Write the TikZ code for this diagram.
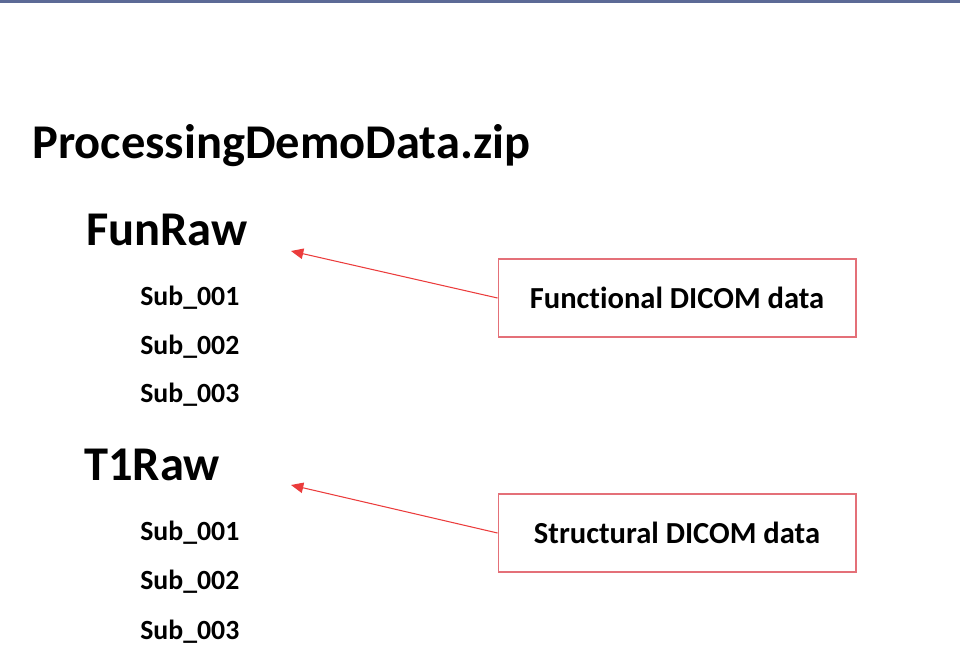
\documentclass[tikz,border=0pt]{standalone}
\usepackage{fontspec}
\setmainfont[Ligatures={NoCommon}]{Carlito}
\usetikzlibrary{arrows.meta}

\definecolor{topbar}{RGB}{92,106,150}
\definecolor{boxred}{RGB}{228,112,120}
\definecolor{arrowred}{RGB}{235,60,60}

\begin{document}
\begin{tikzpicture}[
    x=0.02cm, y=-0.02cm,
    font=\bfseries,
    folder/.style={anchor=base west, inner sep=0pt},
    title/.style={folder, font=\fontsize{27.6}{32}\selectfont\bfseries},
    rawdir/.style={folder, font=\fontsize{27.6}{32}\selectfont\bfseries},
    subject/.style={folder, font=\fontsize{15.8}{19}\selectfont\bfseries},
    callout/.style={
        draw=boxred,
        line width=0.6pt,
        minimum width=7.16cm,
        minimum height=1.56cm,
        align=center,
        font=\fontsize{17.4}{21}\selectfont\bfseries
    },
    pointer/.style={-{Triangle[length=7pt,width=6pt]}, draw=arrowred, line width=0.6pt}
]

\useasboundingbox (0,0) rectangle (960,670);
\fill[topbar] (0,0) rectangle (960,2.5);

\node[title] (zipFile) at (32,158) {ProcessingDemoData.zip};

\node[rawdir] (funRaw) at (86,245) {FunRaw};
\node[subject] (funSub1) at (140,305) {Sub\_001};
\node[subject] (funSub2) at (140,354) {Sub\_002};
\node[subject] (funSub3) at (140,402) {Sub\_003};

\node[rawdir] (tRaw) at (84,480) {T1Raw};
\node[subject] (tSub1) at (140,540) {Sub\_001};
\node[subject] (tSub2) at (140,589) {Sub\_002};
\node[subject] (tSub3) at (140,639) {Sub\_003};

\node[callout] (funBox) at (677,298) {Functional DICOM data};
\node[callout] (tBox) at (677,533) {Structural DICOM data};

\coordinate (funTip) at (291,251);
\coordinate (tTip) at (291,485);

\draw[pointer] (funBox.west) -- (funTip);
\draw[pointer] (tBox.west) -- (tTip);

\end{tikzpicture}
\end{document}
